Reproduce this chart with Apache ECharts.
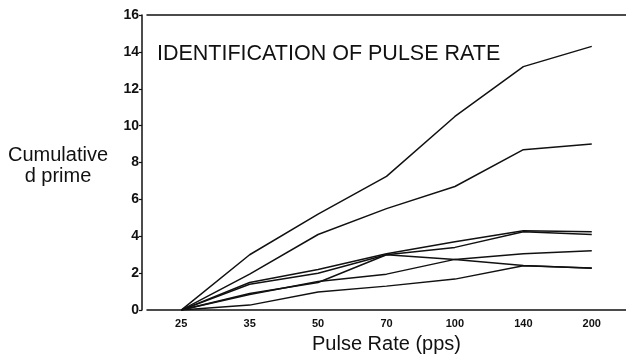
<!DOCTYPE html>
<html>
<head>
<meta charset="utf-8">
<script src="https://cdn.jsdelivr.net/npm/echarts@6/dist/echarts.min.js"></script>
<style>
  html, body { margin: 0; padding: 0; background: #fff; }
  #chart { width: 626px; height: 359px; }
</style>
</head>
<body>
<div id="chart"></div>
<script>
const pulseRates = ['25', '35', '50', '70', '100', '140', '200'];
const yTicks = [0, 2, 4, 6, 8, 10, 12, 14, 16];

// cumulative d' per listener
const s1 = [0, 3.0, 5.2, 7.25, 10.5, 13.2, 14.3];
const s2 = [0, 1.95, 4.1, 5.5, 6.7, 8.7, 9.0];
const s3 = [0, 1.5, 2.2, 3.05, 3.7, 4.3, 4.25];
const s4 = [0, 1.4, 2.0, 3.0, 3.4, 4.25, 4.1];
const s5 = [0, 0.9, 1.5, 3.0, 2.75, 2.42, 2.27];
const s6 = [0, 0.85, 1.55, 1.95, 2.75, 3.05, 3.22];
const s7 = [0, 0.27, 0.98, 1.3, 1.68, 2.4, 2.28];
const allSeries = [s1, s2, s3, s4, s5, s6, s7];

const chart = echarts.init(document.getElementById('chart'));
const font = 'Liberation Sans, Arial, sans-serif';

chart.setOption({
  animation: false,
  textStyle: { fontFamily: font },
  grid: { left: 147, right: -3, top: 15, bottom: 44 },
  graphic: [
    {
      type: 'text',
      x: 58,
      y: 145,
      style: {
        text: 'Cumulative\nd prime',
        font: '20px ' + font,
        fill: '#111',
        textAlign: 'center',
        lineHeight: 21
      }
    },
    {
      type: 'text',
      x: 157,
      y: 43,
      style: {
        text: 'IDENTIFICATION OF PULSE RATE',
        font: '21.5px ' + font,
        fill: '#111'
      }
    }
  ],
  xAxis: [
    {
      type: 'category',
      data: pulseRates,
      boundaryGap: true,
      name: 'Pulse Rate (pps)',
      nameLocation: 'middle',
      nameGap: 14,
      nameTextStyle: { fontSize: 20, color: '#111', fontFamily: font },
      axisLine: { lineStyle: { color: '#111', width: 1.5 } },
      axisTick: { length: 3, lineStyle: { color: '#111', width: 1.2 } },
      axisLabel: { fontSize: 11, fontWeight: 'bold', color: '#111', margin: 8 }
    },
    {
      type: 'category',
      data: pulseRates,
      position: 'top',
      axisLine: { show: true, lineStyle: { color: '#111', width: 1.5 } },
      axisTick: { show: false },
      axisLabel: { show: false }
    }
  ],
  yAxis: {
    type: 'value',
    min: yTicks[0],
    max: yTicks[yTicks.length - 1],
    interval: 2,
    offset: 5,
    splitLine: { show: false },
    axisLine: { show: true, lineStyle: { color: '#111', width: 1.5 } },
    axisTick: { show: true, length: 3, lineStyle: { color: '#111', width: 1.2 } },
    axisLabel: { fontSize: 14, fontWeight: 'bold', color: '#111', margin: 3 }
  },
  series: allSeries.map(function (d) {
    return {
      type: 'line',
      data: d,
      symbol: 'none',
      lineStyle: { color: '#111', width: 1.5 }
    };
  })
});
</script>
</body>
</html>
